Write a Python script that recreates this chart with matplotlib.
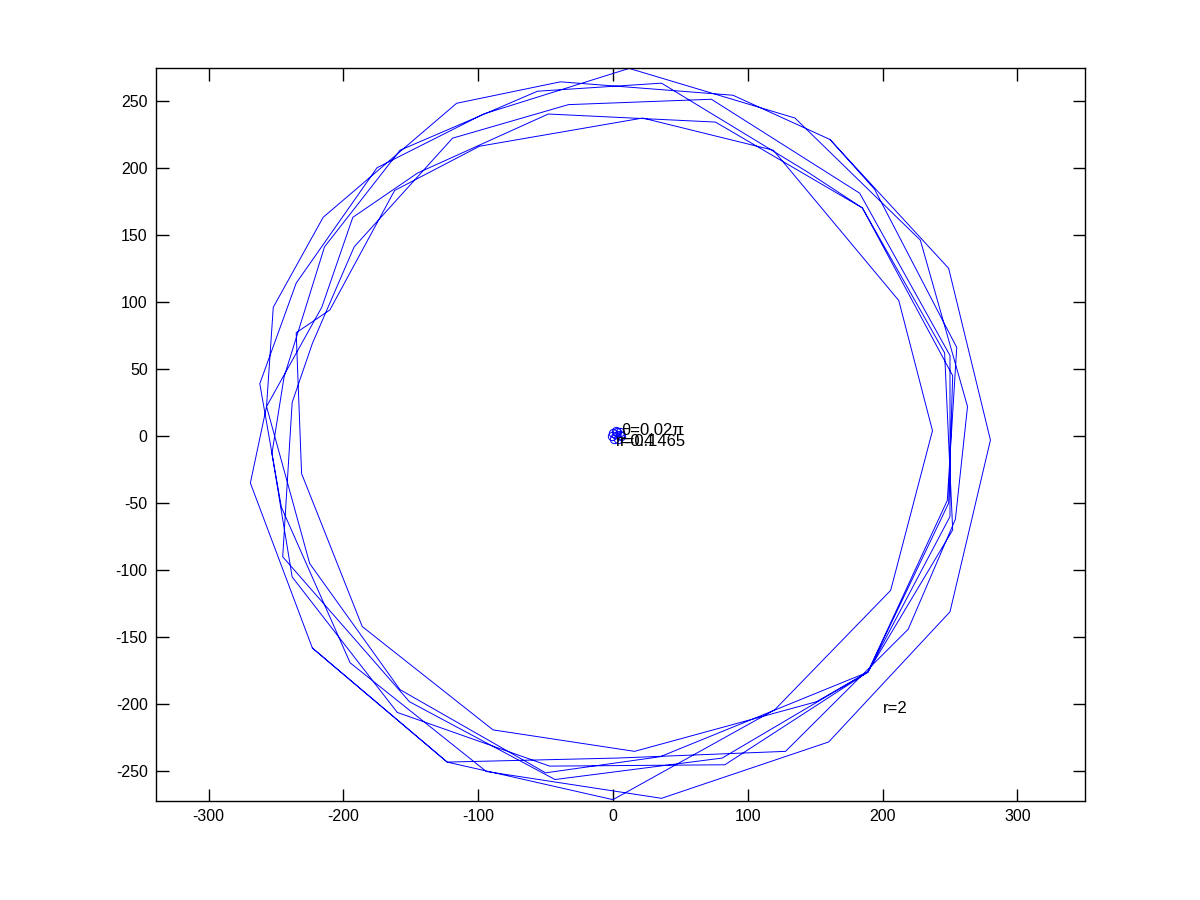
import matplotlib
matplotlib.use("Agg")
import matplotlib.pyplot as plt

# big trajectory (r=2), traced loop by loop
loop_x = [
    161, 249, 280, 250, 160, 36, -94, -195, -246, -262, -235, -175, -96, 12, 135,
    228, 263, 254, 219, 128, 3, -123, -223, -269, -257, -252, -215, -116, -39, 89, 161,
    194, 255, 248, 189, 83, -47, -160, -238, -253, -244, -214, -158, -56, 36, 144,
    185, 246, 252, 189, 81, -43, -151, -245, -238, -223, -192, -119, -33, 73, 183,
    250, 250, 189, 35, -50, -158, -225, -257, -216, -193, -145, -48, 76, 185,
    252, 249, 189, 151, 16, -89, -186, -231, -235, -210, -162, -99, 22, 119, 212,
    237, 206, 120, 0, -123, -223,
]
loop_y = [
    221, 125, -3, -131, -228, -270, -250, -169, -53, 39, 114, 200, 240, 274, 237,
    146, 22, -62, -144, -235, -240, -243, -158, -35, 22, 96, 163, 248, 264, 254, 221,
    184, 66, -48, -176, -245, -246, -206, -105, -13, 44, 141, 213, 257, 263, 197,
    170, 62, -70, -176, -240, -256, -198, -90, 25, 69, 141, 222, 247, 251, 181,
    60, -60, -176, -239, -251, -189, -95, 22, 96, 163, 196, 240, 234, 170,
    45, -50, -176, -198, -235, -219, -142, -28, 77, 94, 183, 216, 237, 213, 101,
    4, -115, -204, -271, -243, -158,
]

# small spiral near the origin
small_x = [2, 5, 6, 4, 1, -1, 0, 3, 5]
small_y = [4, 3, 0, -2, -2, 0, 2, 3, 1]

labels = [
    (6, 4, "θ=0.02π"),
    (2, -4, "r=0.4"),
    (5, -4, "r=0.1465"),
    (200, -203, "r=2"),
]

xticks = [-300, -200, -100, 0, 100, 200, 300]
yticks = [-250, -200, -150, -100, -50, 0, 50, 100, 150, 200, 250]


def main() -> None:
    plt.rcParams["font.family"] = ["Liberation Sans", "DejaVu Sans"]
    plt.rcParams["axes.unicode_minus"] = False
    fig = plt.figure(figsize=(12, 9), dpi=100)
    ax = fig.add_axes([0.13, 0.11, 0.774, 0.814])

    ax.plot(loop_x, loop_y, color="#0000ff", linewidth=0.7)
    ax.plot(small_x, small_y, color="#0000ff", linewidth=0.7,
            marker="o", markersize=6, markerfacecolor="none", markeredgewidth=0.7)

    for x, y, text in labels:
        ax.text(x, y, text, fontsize=12, va="center", ha="left")

    ax.set_xlim(-339, 350)
    ax.set_ylim(-272, 274)
    ax.set_xticks(xticks)
    ax.set_yticks(yticks)
    ax.tick_params(direction="in", length=9, width=1, top=True, right=True,
                   labelsize=11.5, pad=6)
    for spine in ax.spines.values():
        spine.set_linewidth(1)

    fig.savefig("out.png", dpi=100)
    plt.close(fig)


if __name__ == "__main__":
    main()
